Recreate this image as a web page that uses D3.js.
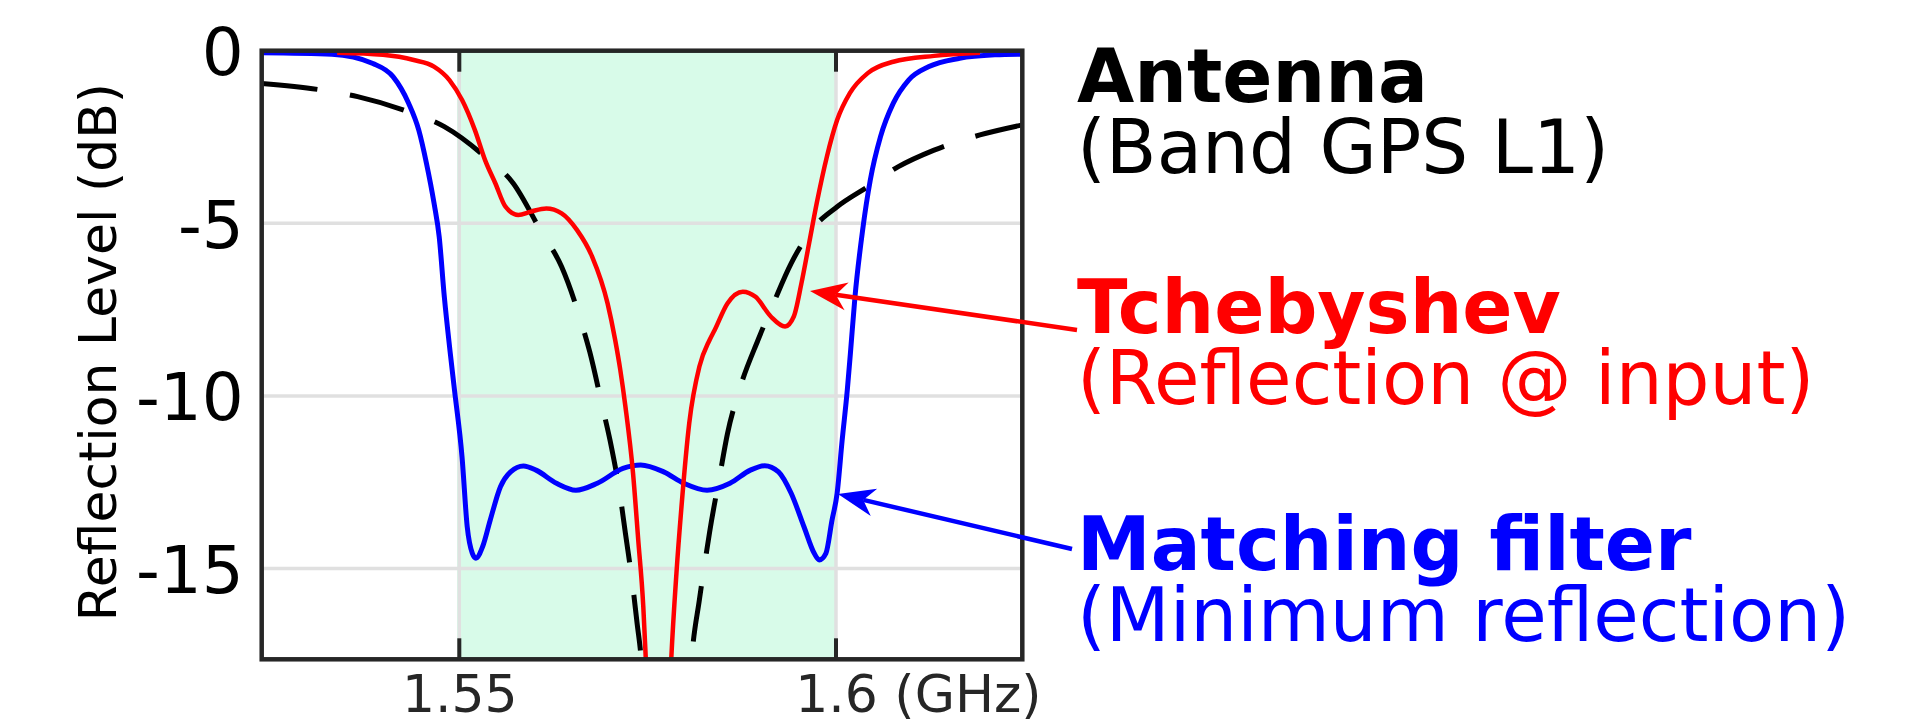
<!DOCTYPE html>
<html>
<head>
<meta charset="utf-8">
<script src="https://cdn.jsdelivr.net/npm/d3@7/dist/d3.min.js"></script>
<style>
  html, body { margin: 0; padding: 0; background: #fff; }
  svg { display: block; font-family: "DejaVu Sans", sans-serif; }
</style>
</head>
<body>
<div id="chart"></div>
<script>
// frequency in GHz, reflection in dB
const antennaFreq = [1.52377, 1.53175, 1.5365, 1.54327, 1.54801, 1.55342, 1.55715, 1.56087, 1.56358, 1.56595,
  1.56731, 1.56899, 1.57, 1.57137, 1.57205, 1.57306, 1.5736, 1.57408, 1.5746, 1.5775,
  1.5804, 1.58085, 1.58187, 1.58255, 1.58322, 1.58458, 1.58559, 1.58728, 1.58965, 1.59169,
  1.59405, 1.59676, 1.60015, 1.60422, 1.60828, 1.61302, 1.61911, 1.62473];
const antennaDb = [-0.95, -1.14, -1.33, -1.77, -2.2, -3.07, -3.84, -5.24, -6.26, -7.7,
  -8.72, -10.31, -11.28, -12.92, -13.98, -15.57, -16.59, -17.46, -19, -28,
  -19, -17.6, -15.9, -14.9, -13.95, -12.3, -11.1, -9.75, -8.38, -7.32,
  -6.16, -5.19, -4.52, -3.94, -3.36, -2.88, -2.44, -2.15];

const tchebFreq = [1.53378, 1.53987, 1.54395, 1.54664, 1.54869, 1.55037, 1.55207, 1.55342, 1.55478, 1.55613,
  1.55783, 1.55952, 1.56155, 1.56358, 1.56561, 1.56764, 1.56968, 1.57069, 1.57137, 1.57205,
  1.57306, 1.57375, 1.57442, 1.57475, 1.5751, 1.57645, 1.5778, 1.57814, 1.57882, 1.57949,
  1.58052, 1.58187, 1.58322, 1.5839, 1.58559, 1.58763, 1.58932, 1.59135, 1.59324, 1.5944,
  1.59541, 1.59643, 1.59744, 1.59879, 1.60015, 1.60184, 1.60422, 1.60761, 1.61302, 1.61911];
const tchebDb = [-0.06, -0.12, -0.27, -0.46, -0.85, -1.43, -2.3, -3.17, -3.84, -4.52,
  -4.76, -4.66, -4.57, -4.71, -5.19, -5.97, -7.32, -8.38, -9.25, -10.31,
  -12.24, -14.17, -16.1, -17.6, -19.3, -32, -19.3, -17.6, -15.14, -13.21,
  -10.79, -9.15, -8.38, -8.09, -7.32, -6.98, -7.13, -7.7, -7.99, -7.7,
  -6.74, -5.58, -4.42, -3.07, -2.01, -1.23, -0.65, -0.32, -0.15, -0.06];

const matchFreq = [1.52377, 1.5331, 1.53853, 1.5412, 1.54327, 1.54462, 1.54563, 1.54664, 1.54733, 1.54801,
  1.54882, 1.54936, 1.55036, 1.55105, 1.55173, 1.5522, 1.55309, 1.5541, 1.55546, 1.55681,
  1.55851, 1.56018, 1.5629, 1.56548, 1.56832, 1.57172, 1.57408, 1.57713, 1.57982, 1.58288,
  1.58593, 1.58864, 1.59054, 1.59237, 1.59405, 1.59575, 1.59711, 1.59778, 1.59866, 1.59947,
  1.60015, 1.60082, 1.6015, 1.6019, 1.60252, 1.60354, 1.60455, 1.60591, 1.60761, 1.60964,
  1.61234, 1.61641, 1.62114, 1.62473];
const matchDb = [-0.06, -0.1, -0.37, -0.75, -1.52, -2.3, -3.25, -4.41, -5.39, -7.13,
  -8.8, -9.83, -11.76, -13.79, -14.56, -14.7, -14.37, -13.6, -12.63, -12.2,
  -12.03, -12.15, -12.53, -12.73, -12.53, -12.1, -12.0, -12.2, -12.53, -12.73,
  -12.53, -12.15, -12.02, -12.2, -12.82, -13.79, -14.56, -14.75, -14.56, -13.6,
  -12.82, -11.28, -9.83, -8.8, -7.13, -5.19, -3.75, -2.49, -1.52, -0.85,
  -0.46, -0.22, -0.12, -0.1];

const bandGHz = [1.5497, 1.6];
const xTicks = [1.55, 1.6];
const yTicks = [0, -5, -10, -15];
const yGrid = [-5, -10, -15];

const legendTitles = ['Antenna', 'Tchebyshev', 'Matching filter'];
const legendSubs = ['(Band GPS L1)', '(Reflection @ input)', '(Minimum reflection)'];
const legendColors = ['#000000', '#ff0000', '#0000ff'];
// arrow tips sit on the curves (GHz, dB)
const arrowTips = [null, [1.59655, -6.96], [1.60026, -12.84]];

const W = 1916, H = 727;
const pLeft = 261.7, pRight = 1022.3, pTop = 50.7, pBottom = 659.3;

const x = d3.scaleLinear().domain([1.52377, 1.62473]).range([pLeft, pRight]);
const y = d3.scaleLinear().domain([-17.63, 0]).range([pBottom, pTop]);

const svg = d3.select('#chart').append('svg')
  .attr('width', W).attr('height', H);

svg.append('rect').attr('width', W).attr('height', H).attr('fill', '#fff');

svg.append('defs').append('clipPath').attr('id', 'plot')
  .append('rect')
  .attr('x', pLeft).attr('y', pTop)
  .attr('width', pRight - pLeft).attr('height', pBottom - pTop);

// GPS L1 band
svg.append('rect')
  .attr('x', x(bandGHz[0])).attr('y', pTop)
  .attr('width', x(bandGHz[1]) - x(bandGHz[0]))
  .attr('height', pBottom - pTop)
  .attr('fill', '#d8fbe9');

// grid
svg.append('g').selectAll('line').data(yGrid).enter().append('line')
  .attr('x1', pLeft).attr('x2', pRight)
  .attr('y1', d => y(d)).attr('y2', d => y(d))
  .attr('stroke', '#e0e0e0').attr('stroke-width', 3.5);
svg.append('g').selectAll('line').data(xTicks).enter().append('line')
  .attr('x1', d => x(d)).attr('x2', d => x(d))
  .attr('y1', pTop).attr('y2', pBottom)
  .attr('stroke', '#e0e0e0').attr('stroke-width', 3.5);

const line = d3.line()
  .x(d => x(d[0]))
  .y(d => y(d[1]))
  .curve(d3.curveMonotoneX);

const curves = svg.append('g').attr('clip-path', 'url(#plot)');

curves.append('path')
  .datum(d3.zip(antennaFreq, antennaDb))
  .attr('d', line)
  .attr('fill', 'none').attr('stroke', '#000').attr('stroke-width', 5)
  .attr('stroke-dasharray', '56,33');

curves.append('path')
  .datum(d3.zip(matchFreq, matchDb))
  .attr('d', line)
  .attr('fill', 'none').attr('stroke', '#0000ff').attr('stroke-width', 5)
  .attr('stroke-linejoin', 'round');

curves.append('path')
  .datum(d3.zip(tchebFreq, tchebDb))
  .attr('d', line)
  .attr('fill', 'none').attr('stroke', '#ff0000').attr('stroke-width', 4.5)
  .attr('stroke-linejoin', 'round');

// frame
svg.append('rect')
  .attr('x', pLeft).attr('y', pTop)
  .attr('width', pRight - pLeft).attr('height', pBottom - pTop)
  .attr('fill', 'none').attr('stroke', '#262626').attr('stroke-width', 4.5);

// inward ticks, top and bottom
const tickG = svg.append('g');
xTicks.forEach(t => {
  tickG.append('line').attr('x1', x(t)).attr('x2', x(t)).attr('y1', pBottom).attr('y2', pBottom - 21)
    .attr('stroke', '#262626').attr('stroke-width', 4);
  tickG.append('line').attr('x1', x(t)).attr('x2', x(t)).attr('y1', pTop).attr('y2', pTop + 21)
    .attr('stroke', '#262626').attr('stroke-width', 4);
});

// x axis labels
const xAxis = d3.axisBottom(x).tickValues(xTicks).tickSize(0).tickPadding(15.5)
  .tickFormat(d => d === 1.6 ? '1.6' : '1.55');
const gx = svg.append('g').attr('transform', 'translate(0,' + pBottom + ')').call(xAxis);
gx.select('.domain').remove();
gx.selectAll('text').attr('font-size', 52).attr('fill', '#262626')
  .attr('font-family', '"DejaVu Sans", sans-serif');
gx.selectAll('.tick').filter(d => d === 1.6).each(function () {
  const t = d3.select(this).select('text');
  const w = t.node().getComputedTextLength();
  t.attr('text-anchor', 'start').attr('x', -w / 2);
  t.append('tspan').text(' (GHz)');
});

// y axis labels
const yAxis = d3.axisLeft(y).tickValues(yTicks).tickSize(0).tickPadding(18)
  .tickFormat(d => String(d));
const gy = svg.append('g').attr('transform', 'translate(' + pLeft + ',0)').call(yAxis);
gy.select('.domain').remove();
gy.selectAll('text').attr('font-size', 66).attr('fill', '#000').attr('dy', '0.36em')
  .attr('font-family', '"DejaVu Sans", sans-serif');

svg.append('text')
  .attr('transform', 'translate(116,352) rotate(-90)')
  .attr('text-anchor', 'middle')
  .attr('font-size', 52)
  .attr('fill', '#000')
  .text('Reflection Level (dB)');

// legend text + arrows
const titleY = [101.7, 333.3, 570.3];
const arrowTail = [null, [1077, 330], [1072, 549]];
legendTitles.forEach((t, i) => {
  const g = svg.append('g').attr('fill', legendColors[i]);
  g.append('text').attr('x', 1077).attr('y', titleY[i])
    .attr('font-size', 74).attr('font-weight', 'bold').text(t);
  g.append('text').attr('x', 1077).attr('y', titleY[i] + 71)
    .attr('font-size', 74).text(legendSubs[i]);

  if (arrowTips[i]) {
    const tx = x(arrowTips[i][0]), ty = y(arrowTips[i][1]);
    const [sx, sy] = arrowTail[i];
    const ang = Math.atan2(ty - sy, tx - sx);
    const nx = tx - 26 * Math.cos(ang), ny = ty - 26 * Math.sin(ang);
    svg.append('line')
      .attr('x1', sx).attr('y1', sy).attr('x2', nx).attr('y2', ny)
      .attr('stroke', legendColors[i]).attr('stroke-width', 4.5);
    svg.append('path')
      .attr('d', 'M0,0 L-37,-14 L-26,0 L-37,14 Z')
      .attr('transform', 'translate(' + tx + ',' + ty + ') rotate(' + (ang * 180 / Math.PI) + ')')
      .attr('fill', legendColors[i]);
  }
});
</script>
</body>
</html>
